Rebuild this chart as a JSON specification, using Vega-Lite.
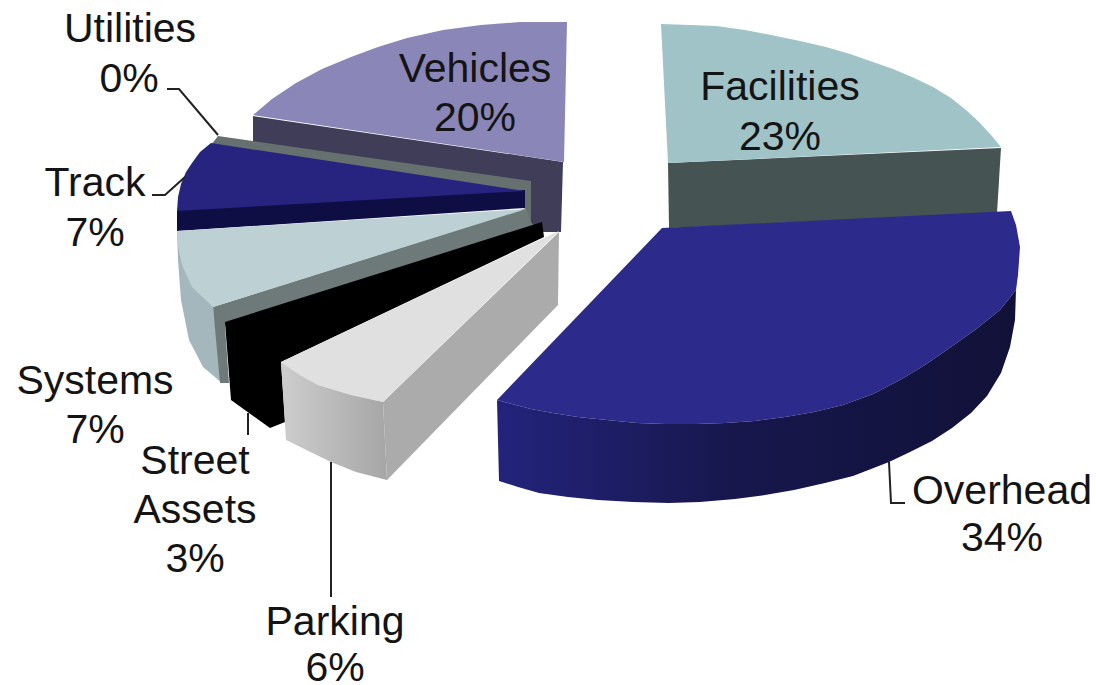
{
  "$schema": "https://vega.github.io/schema/vega-lite/v6.json",
  "width": 1096,
  "height": 685,
  "padding": 0,
  "autosize": {"type": "none"},
  "background": "#ffffff",
  "config": {"view": {"stroke": null}},
  "datasets": {
    "faces": [
      {"face":"Vehicles side","i":0,"x":253,"y":116},{"face":"Vehicles side","i":1,"x":563,"y":162},{"face":"Vehicles side","i":2,"x":561,"y":232},{"face":"Vehicles side","i":3,"x":528,"y":232},{"face":"Vehicles side","i":4,"x":528,"y":184},{"face":"Vehicles side","i":5,"x":253,"y":142},
      {"face":"Vehicles top","i":0,"x":567,"y":22},{"face":"Vehicles top","i":1,"x":520,"y":22},{"face":"Vehicles top","i":2,"x":481,"y":25},{"face":"Vehicles top","i":3,"x":443,"y":30},{"face":"Vehicles top","i":4,"x":407,"y":38},{"face":"Vehicles top","i":5,"x":378,"y":47},{"face":"Vehicles top","i":6,"x":351,"y":57},{"face":"Vehicles top","i":7,"x":322,"y":69},{"face":"Vehicles top","i":8,"x":296,"y":83},{"face":"Vehicles top","i":9,"x":272,"y":99},{"face":"Vehicles top","i":10,"x":253,"y":115},{"face":"Vehicles top","i":11,"x":564,"y":162},
      {"face":"Utilities","i":0,"x":218,"y":136},{"face":"Utilities","i":1,"x":531,"y":181},{"face":"Utilities","i":2,"x":531,"y":222},{"face":"Utilities","i":3,"x":525,"y":222},{"face":"Utilities","i":4,"x":525,"y":192},{"face":"Utilities","i":5,"x":211,"y":145},
      {"face":"Track side","i":0,"x":177,"y":210},{"face":"Track side","i":1,"x":525,"y":190},{"face":"Track side","i":2,"x":525,"y":208},{"face":"Track side","i":3,"x":177,"y":231},
      {"face":"Track top","i":0,"x":211,"y":143},{"face":"Track top","i":1,"x":200,"y":152},{"face":"Track top","i":2,"x":192,"y":163},{"face":"Track top","i":3,"x":186,"y":172},{"face":"Track top","i":4,"x":181,"y":184},{"face":"Track top","i":5,"x":178,"y":197},{"face":"Track top","i":6,"x":177,"y":211},{"face":"Track top","i":7,"x":525,"y":191},
      {"face":"Systems rim","i":0,"x":177,"y":231},{"face":"Systems rim","i":1,"x":178,"y":260},{"face":"Systems rim","i":2,"x":181,"y":300},{"face":"Systems rim","i":3,"x":189,"y":340},{"face":"Systems rim","i":4,"x":203,"y":367},{"face":"Systems rim","i":5,"x":222,"y":383},{"face":"Systems rim","i":6,"x":213,"y":307},
      {"face":"Systems cut","i":0,"x":213,"y":307},{"face":"Systems cut","i":1,"x":526,"y":208},{"face":"Systems cut","i":2,"x":531,"y":222},{"face":"Systems cut","i":3,"x":536,"y":228},{"face":"Systems cut","i":4,"x":225,"y":326},{"face":"Systems cut","i":5,"x":229,"y":383},{"face":"Systems cut","i":6,"x":220,"y":383},
      {"face":"Systems top","i":0,"x":177,"y":231},{"face":"Systems top","i":1,"x":178,"y":247},{"face":"Systems top","i":2,"x":182,"y":265},{"face":"Systems top","i":3,"x":192,"y":287},{"face":"Systems top","i":4,"x":213,"y":307},{"face":"Systems top","i":5,"x":526,"y":209},
      {"face":"Street Assets","i":0,"x":225,"y":322},{"face":"Street Assets","i":1,"x":542,"y":222},{"face":"Street Assets","i":2,"x":544,"y":237},{"face":"Street Assets","i":3,"x":281,"y":362},{"face":"Street Assets","i":4,"x":285,"y":422},{"face":"Street Assets","i":5,"x":270,"y":428},{"face":"Street Assets","i":6,"x":231,"y":400},
      {"face":"Parking cut","i":0,"x":559,"y":232},{"face":"Parking cut","i":1,"x":383,"y":402},{"face":"Parking cut","i":2,"x":387,"y":480},{"face":"Parking cut","i":3,"x":558,"y":305},
      {"face":"Parking top","i":0,"x":559,"y":231},{"face":"Parking top","i":1,"x":281,"y":362},{"face":"Parking top","i":2,"x":300,"y":375},{"face":"Parking top","i":3,"x":318,"y":385},{"face":"Parking top","i":4,"x":351,"y":395},{"face":"Parking top","i":5,"x":383,"y":402},
      {"face":"Facilities side","i":0,"x":668,"y":163},{"face":"Facilities side","i":1,"x":1001,"y":148},{"face":"Facilities side","i":2,"x":997,"y":213},{"face":"Facilities side","i":3,"x":669,"y":228},
      {"face":"Facilities top","i":0,"x":661,"y":24},{"face":"Facilities top","i":1,"x":690,"y":25},{"face":"Facilities top","i":2,"x":716,"y":26},{"face":"Facilities top","i":3,"x":745,"y":30},{"face":"Facilities top","i":4,"x":771,"y":35},{"face":"Facilities top","i":5,"x":800,"y":41},{"face":"Facilities top","i":6,"x":826,"y":47},{"face":"Facilities top","i":7,"x":850,"y":54},{"face":"Facilities top","i":8,"x":873,"y":62},{"face":"Facilities top","i":9,"x":893,"y":69},{"face":"Facilities top","i":10,"x":912,"y":77},{"face":"Facilities top","i":11,"x":933,"y":87},{"face":"Facilities top","i":12,"x":951,"y":98},{"face":"Facilities top","i":13,"x":966,"y":110},{"face":"Facilities top","i":14,"x":979,"y":122},{"face":"Facilities top","i":15,"x":991,"y":135},{"face":"Facilities top","i":16,"x":1001,"y":147},{"face":"Facilities top","i":17,"x":668,"y":163},
      {"face":"Overhead top","i":0,"x":662,"y":228},{"face":"Overhead top","i":1,"x":1011,"y":211},{"face":"Overhead top","i":2,"x":1016,"y":225},{"face":"Overhead top","i":3,"x":1020,"y":247},{"face":"Overhead top","i":4,"x":1018,"y":275},{"face":"Overhead top","i":5,"x":1016,"y":290},{"face":"Overhead top","i":6,"x":1000,"y":310},{"face":"Overhead top","i":7,"x":975,"y":330},{"face":"Overhead top","i":8,"x":951,"y":347},{"face":"Overhead top","i":9,"x":925,"y":365},{"face":"Overhead top","i":10,"x":900,"y":380},{"face":"Overhead top","i":11,"x":873,"y":394},{"face":"Overhead top","i":12,"x":843,"y":405},{"face":"Overhead top","i":13,"x":814,"y":412},{"face":"Overhead top","i":14,"x":785,"y":417},{"face":"Overhead top","i":15,"x":755,"y":421},{"face":"Overhead top","i":16,"x":725,"y":423},{"face":"Overhead top","i":17,"x":696,"y":424},{"face":"Overhead top","i":18,"x":665,"y":424},{"face":"Overhead top","i":19,"x":637,"y":423},{"face":"Overhead top","i":20,"x":607,"y":420},{"face":"Overhead top","i":21,"x":578,"y":417},{"face":"Overhead top","i":22,"x":553,"y":413},{"face":"Overhead top","i":23,"x":531,"y":409},{"face":"Overhead top","i":24,"x":512,"y":404},{"face":"Overhead top","i":25,"x":497,"y":400}
    ],
    "rims": [
      {"face":"Parking rim","i":0,"x":281,"y":362},{"face":"Parking rim","i":1,"x":300,"y":375},{"face":"Parking rim","i":2,"x":318,"y":385},{"face":"Parking rim","i":3,"x":351,"y":395},{"face":"Parking rim","i":4,"x":383,"y":402},{"face":"Parking rim","i":5,"x":387,"y":480},{"face":"Parking rim","i":6,"x":356,"y":472},{"face":"Parking rim","i":7,"x":331,"y":462},{"face":"Parking rim","i":8,"x":286,"y":440}
    ],
    "overheadRim": [
      {"face":"Overhead rim","i":0,"x":497,"y":400},{"face":"Overhead rim","i":1,"x":512,"y":404},{"face":"Overhead rim","i":2,"x":531,"y":409},{"face":"Overhead rim","i":3,"x":553,"y":413},{"face":"Overhead rim","i":4,"x":578,"y":417},{"face":"Overhead rim","i":5,"x":607,"y":420},{"face":"Overhead rim","i":6,"x":637,"y":423},{"face":"Overhead rim","i":7,"x":665,"y":424},{"face":"Overhead rim","i":8,"x":696,"y":424},{"face":"Overhead rim","i":9,"x":725,"y":423},{"face":"Overhead rim","i":10,"x":755,"y":421},{"face":"Overhead rim","i":11,"x":785,"y":417},{"face":"Overhead rim","i":12,"x":814,"y":412},{"face":"Overhead rim","i":13,"x":843,"y":405},{"face":"Overhead rim","i":14,"x":873,"y":394},{"face":"Overhead rim","i":15,"x":900,"y":380},{"face":"Overhead rim","i":16,"x":925,"y":365},{"face":"Overhead rim","i":17,"x":951,"y":347},{"face":"Overhead rim","i":18,"x":975,"y":330},{"face":"Overhead rim","i":19,"x":1000,"y":310},{"face":"Overhead rim","i":20,"x":1016,"y":290},{"face":"Overhead rim","i":21,"x":1015,"y":320},{"face":"Overhead rim","i":22,"x":1010,"y":347},{"face":"Overhead rim","i":23,"x":1001,"y":373},{"face":"Overhead rim","i":24,"x":987,"y":396},{"face":"Overhead rim","i":25,"x":971,"y":413},{"face":"Overhead rim","i":26,"x":952,"y":428},{"face":"Overhead rim","i":27,"x":932,"y":441},{"face":"Overhead rim","i":28,"x":910,"y":452},{"face":"Overhead rim","i":29,"x":889,"y":462},{"face":"Overhead rim","i":30,"x":853,"y":476},{"face":"Overhead rim","i":31,"x":825,"y":483},{"face":"Overhead rim","i":32,"x":794,"y":490},{"face":"Overhead rim","i":33,"x":765,"y":495},{"face":"Overhead rim","i":34,"x":735,"y":499},{"face":"Overhead rim","i":35,"x":700,"y":502},{"face":"Overhead rim","i":36,"x":669,"y":503},{"face":"Overhead rim","i":37,"x":633,"y":502},{"face":"Overhead rim","i":38,"x":598,"y":500},{"face":"Overhead rim","i":39,"x":568,"y":497},{"face":"Overhead rim","i":40,"x":539,"y":493},{"face":"Overhead rim","i":41,"x":518,"y":487},{"face":"Overhead rim","i":42,"x":499,"y":481}
    ],
    "leaders": [
      {"name":"Utilities","i":0,"x":167,"y":89},{"name":"Utilities","i":1,"x":179,"y":89},{"name":"Utilities","i":2,"x":218,"y":135},
      {"name":"Track","i":0,"x":152,"y":195},{"name":"Track","i":1,"x":165,"y":195},{"name":"Track","i":2,"x":185,"y":177},
      {"name":"Street Assets","i":0,"x":248,"y":413},{"name":"Street Assets","i":1,"x":248,"y":435},
      {"name":"Parking","i":0,"x":331,"y":462},{"name":"Parking","i":1,"x":331,"y":597},
      {"name":"Overhead","i":0,"x":889,"y":462},{"name":"Overhead","i":1,"x":891,"y":503},{"name":"Overhead","i":2,"x":905,"y":503}
    ],
    "labels": [
      {"text":"Utilities","x":130,"y":28},{"text":"0%","x":129,"y":78},
      {"text":"Vehicles","x":475,"y":68},{"text":"20%","x":475,"y":117},
      {"text":"Facilities","x":780,"y":86},{"text":"23%","x":780,"y":136},
      {"text":"Track","x":95,"y":182},{"text":"7%","x":95,"y":232},
      {"text":"Systems","x":95,"y":380},{"text":"7%","x":95,"y":429},
      {"text":"Street","x":195,"y":460},{"text":"Assets","x":195,"y":509},{"text":"3%","x":195,"y":558},
      {"text":"Parking","x":335,"y":621},{"text":"6%","x":335,"y":667},
      {"text":"Overhead","x":1002,"y":490},{"text":"34%","x":1002,"y":537}
    ]
  },
  "encoding": {
    "x": {"field": "x", "type": "quantitative", "axis": null, "scale": {"domain": [0, 1096], "nice": false, "zero": false}},
    "y": {"field": "y", "type": "quantitative", "axis": null, "scale": {"domain": [685, 0], "nice": false, "zero": false}}
  },
  "layer": [
    {
      "data": {"name": "faces"},
      "mark": {"type": "line", "strokeWidth": 0, "clip": false},
      "encoding": {
        "fill": {
          "field": "face",
          "type": "nominal",
          "legend": null,
          "sort": null,
          "scale": {
            "domain": ["Vehicles side","Vehicles top","Utilities","Track side","Track top","Systems rim","Systems cut","Systems top","Street Assets","Parking cut","Parking top","Facilities side","Facilities top","Overhead top"],
            "range": ["#3f3d58","#8a87b8","#66706f","#0e0e45","#26247f","#a4b7bc","#6d7a79","#bdd0d3","#000000","#ababab","#e0e0e0","#455352","#9fc3c6","#2c2a8a"]
          }
        },
        "order": {"field": "i", "type": "quantitative"}
      }
    },
    {
      "data": {"name": "rims"},
      "mark": {
        "type": "line",
        "strokeWidth": 0,
        "fill": {"gradient": "linear", "x1": 0, "x2": 1, "y1": 0, "y2": 0, "stops": [{"offset": 0, "color": "#cdcdcd"}, {"offset": 1, "color": "#a6a6a6"}]}
      },
      "encoding": {"order": {"field": "i", "type": "quantitative"}}
    },
    {
      "data": {"name": "overheadRim"},
      "mark": {
        "type": "line",
        "strokeWidth": 0,
        "fill": {"gradient": "linear", "x1": 0, "x2": 1, "y1": 0, "y2": 0, "stops": [{"offset": 0, "color": "#23237c"}, {"offset": 0.45, "color": "#17174d"}, {"offset": 1, "color": "#111138"}]}
      },
      "encoding": {"order": {"field": "i", "type": "quantitative"}}
    },
    {
      "data": {"name": "leaders"},
      "mark": {"type": "line", "color": "#222222", "strokeWidth": 2},
      "encoding": {
        "detail": {"field": "name", "type": "nominal"},
        "order": {"field": "i", "type": "quantitative"}
      }
    },
    {
      "data": {"name": "labels"},
      "mark": {"type": "text", "font": "Liberation Sans", "fontSize": 41, "color": "#141414", "align": "center", "baseline": "middle", "dy": 2},
      "encoding": {"text": {"field": "text", "type": "nominal"}}
    }
  ]
}
